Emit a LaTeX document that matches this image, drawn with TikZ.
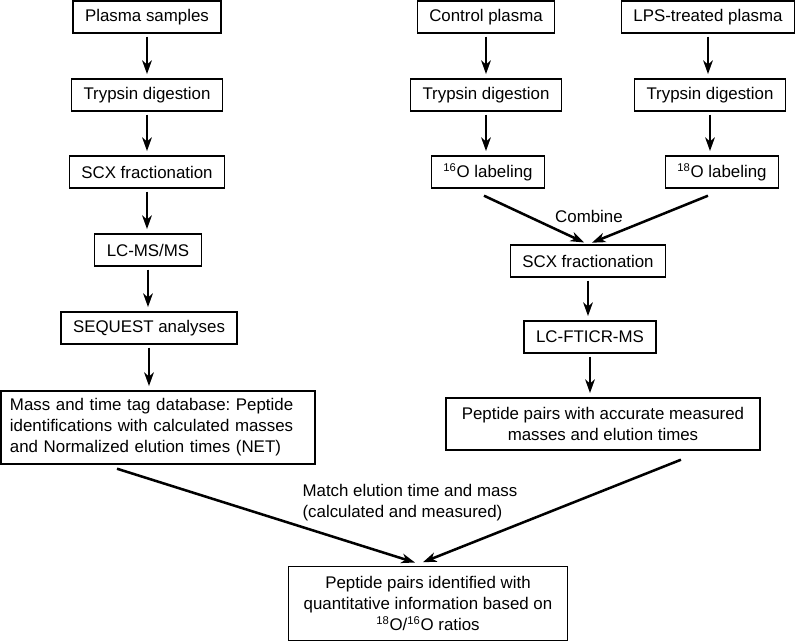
\documentclass[tikz,border=0pt]{standalone}
\usepackage{fontspec}
\setmainfont{Liberation Sans}
\usetikzlibrary{calc,arrows.meta}
\frenchspacing

\begin{document}
\begin{tikzpicture}[x=0.025cm,y=-0.025cm]
            \tikzstyle{box node}=[draw,line width=1pt,inner xsep=0.3cm,minimum height=0.8cm,font=\fontsize{12}{15}\selectfont];
            \tikzstyle{label node}=[font=\fontsize{12}{15}\selectfont];
            \tikzstyle{flow arrow}=[line width=1.8pt,-{Stealth[length=0.34cm,width=0.24cm,inset=0.1cm]},shorten <=2pt,shorten >=3pt];
            \useasboundingbox (0,0) rectangle (797,642);
            % left branch
            \node[box node] (plasma) at (147,17) {Plasma samples};
            \node[box node] (tryp1) at (147,95) {Trypsin digestion};
            \node[box node] (scx1) at (147,172) {SCX fractionation};
            \node[box node] (lcms) at (148,250) {LC-MS/MS};
            \node[box node] (seq) at (149,328) {SEQUEST analyses};
            \node[box node,text width=7.4cm,inner xsep=0.225cm,align=left,minimum height=1.825cm] (mtdb) at (158,427.5) {Mass and time tag database: Peptide\\identifications with calculated masses\\and Normalized elution times (NET)};
            % right branch
            \node[box node] (ctrl) at (486,17) {Control plasma};
            \node[box node] (lps) at (708,17) {LPS-treated plasma};
            \node[box node] (tryp2) at (486,95) {Trypsin digestion};
            \node[box node] (tryp3) at (710,95) {Trypsin digestion};
            \node[box node] (o16) at (488,172) {\textsuperscript{16}O labeling};
            \node[box node] (o18) at (722,172) {\textsuperscript{18}O labeling};
            \node[box node] (scx2) at (588,261) {SCX fractionation};
            \node[box node] (lcft) at (590,337) {LC-FTICR-MS};
            \node[box node,align=center,minimum width=7.85cm,minimum height=1.3cm] (pairs) at (603,424) {Peptide pairs with accurate measured\\masses and elution times};
            \node[box node,align=center,minimum width=6.975cm,minimum height=1.85cm] (final) at (428,603.5) {Peptide pairs identified with\\quantitative information based on\\\textsuperscript{18}O/\textsuperscript{16}O ratios};
            \node[label node] (comb) at (589,216) {Combine};
            \node[label node,align=left] (match) at (410,503) {Match elution time and mass\\(calculated and measured)};
            % straight arrows
            \foreach \a/\b in {plasma/tryp1,tryp1/scx1,scx1/lcms,lcms/seq,seq/mtdb,ctrl/tryp2,tryp2/o16,lps/tryp3,tryp3/o18,scx2/lcft,lcft/pairs}
              \draw[flow arrow] (\a.south) -- (\a.south |- \b.north);
            % merging arrows
            \coordinate (c16) at ($(o16.south)+(-4,7)$);
            \coordinate (c18) at ($(o18.south)+(-14,7)$);
            \coordinate (cm) at ($(mtdb.south)+(-41,4)$);
            \coordinate (cp) at ($(pairs.south)+(78,9)$);
            \coordinate (cf) at ($(final.north)+(-9,-2)$);
            \draw[flow arrow,shorten <=0pt] (c16)--(scx2.north);
            \draw[flow arrow,shorten <=0pt] (c18)--(scx2.north);
            \draw[flow arrow,shorten <=0pt] (cm)--(cf);
            \draw[flow arrow,shorten <=0pt] (cp)--(cf);
\end{tikzpicture}
\end{document}
